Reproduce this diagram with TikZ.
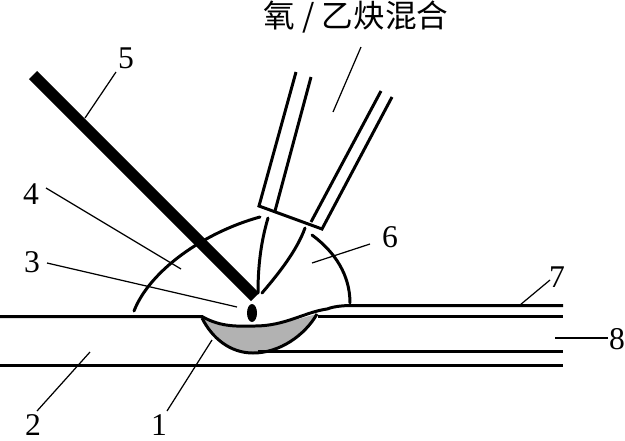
\documentclass[tikz,border=0pt]{standalone}
\usepackage{fontspec}
\setmainfont{Liberation Serif}
\newfontfamily\cjkfont{Noto Sans CJK SC}
\usetikzlibrary{calc}
\definecolor{poolgray}{RGB}{178,178,178}
\begin{document}
\begin{tikzpicture}[
    x=0.02cm, y=-0.02cm,
    numlabel/.style={inner sep=0pt, font=\fontsize{18}{20}\selectfont},
    leader/.style={line width=0.7pt},
    edgeline/.style={line width=1.7pt},
    tubeline/.style={line width=1.7pt},
    flameline/.style={line width=1.7pt, line cap=round}
]
\useasboundingbox (0,0) rectangle (625,440);

% weld pool
\fill[poolgray] (202,318) .. controls (222,330) and (240,326) .. (255,326)
    .. controls (280,326) and (300,318) .. (317,314)
    .. controls (305,335) and (280,353) .. (253,353)
    .. controls (230,353) and (212,338) .. (202,318) -- cycle;
\draw[edgeline] (202,318) .. controls (212,338) and (230,353) .. (253,353)
    .. controls (280,353) and (305,335) .. (317,314);

% plate lines
\draw[edgeline] (0,316.5) -- (202,316.5) .. controls (222,328) and (240,326) .. (255,326)
    .. controls (285,326) and (305,312) .. (327,309)
    .. controls (335,306) and (345,305.5) .. (352,305.5) -- (563,305.5);
\draw[edgeline] (318,316.5) -- (563,316.5);
\draw[edgeline] (258,351.5) -- (563,351.5);
\draw[edgeline] (0,365.5) -- (563,365.5);

% filler rod and droplet
\coordinate (rodtop) at (33,75);
\coordinate (rodtip) at (255,297);
\draw[line width=6.6pt] (rodtop) -- (rodtip);
\fill (252,313) ellipse [x radius=5, y radius=9];

% torch nozzle
\coordinate (noza) at (259,206);
\coordinate (nozb) at (275,211);
\coordinate (nozc) at (311,222);
\coordinate (nozd) at (322,229);
\draw[tubeline] (296,72) -- (noza) -- (nozd) -- (392,97);
\draw[tubeline] (311,77) -- (nozb);
\draw[tubeline] (381,91) -- (nozc);

% flame
\draw[flameline] (134,311) .. controls (150,270) and (205,232) .. (260,217);
\draw[flameline] (312,235) .. controls (335,252) and (350,275) .. (350,303);
\draw[flameline] (268,218) .. controls (260,245) and (258,270) .. (258,293);
\draw[flameline] (305,228) .. controls (297,250) and (280,272) .. (262,293);

% labels
\node[inner sep=0pt, font=\cjkfont\fontsize{18}{20}\selectfont] (gas) at (356,16.5) {氧 / 乙炔混合};
\node[numlabel] (n5) at (126,58) {5};
\node[numlabel] (n4) at (31,194) {4};
\node[numlabel] (n3) at (32,262) {3};
\node[numlabel] (n6) at (390,237) {6};
\node[numlabel] (n7) at (557,277) {7};
\node[numlabel] (n8) at (617,339) {8};
\node[numlabel] (n2) at (33,425) {2};
\node[numlabel] (n1) at (159,425) {1};

% leaders
\draw[leader] (361,47) -- (333,112);
\draw[leader] (116,72) -- (85,118);
\draw[leader] (46,188) -- (181,269);
\draw[leader] (47,263) -- (237,307);
\draw[leader] (370,244) -- (312,263);
\draw[leader] (550,280) -- (520,305);
\draw[leader] (608,338) -- (555,338);
\draw[leader] (37,411) -- (90,352);
\draw[leader] (167,411) -- (212,340);
\end{tikzpicture}
\end{document}
